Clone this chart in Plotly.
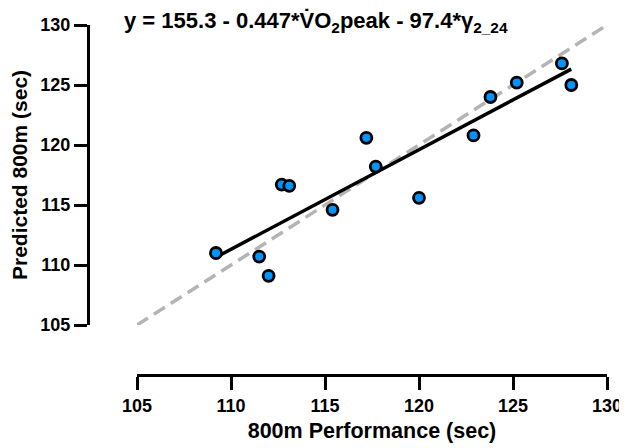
import numpy as np
import plotly.graph_objects as go

# Data
actual_800m = [109.2, 111.5, 112.0, 112.7, 113.1, 115.4, 117.2, 117.7, 120.0, 122.9, 123.8, 125.2, 127.6, 128.1]
predicted_800m = [111.0, 110.7, 109.1, 116.7, 116.6, 114.6, 120.6, 118.2, 115.6, 120.8, 124.0, 125.2, 126.8, 125.0]
axis_range = [105, 130]
tick_vals = [105, 110, 115, 120, 125, 130]

slope, intercept = np.polyfit(actual_800m, predicted_800m, 1)
fit_x = [min(actual_800m), max(actual_800m)]
fit_y = [intercept + slope * v for v in fit_x]

FONT = "Liberation Sans, Arial, sans-serif"

fig = go.Figure()
fig.add_trace(go.Scatter(
    x=axis_range, y=axis_range, mode="lines",
    line=dict(color="#b4b4b4", width=3.5, dash="13px,7px"),
    hoverinfo="skip", showlegend=False, cliponaxis=False))
fig.add_trace(go.Scatter(
    x=fit_x, y=fit_y, mode="lines",
    line=dict(color="black", width=3.5),
    showlegend=False))
fig.add_trace(go.Scatter(
    x=actual_800m, y=predicted_800m, mode="markers",
    marker=dict(size=11, color="#0094ff", line=dict(color="black", width=2.8)),
    showlegend=False, cliponaxis=False))

axis_common = dict(
    range=axis_range, tickvals=tick_vals, ticks="outside", ticklen=13, tickwidth=3,
    tickcolor="black", showline=True, linewidth=3, linecolor="black",
    showgrid=False, zeroline=False, anchor="free", position=0, automargin=False,
    tickfont=dict(family=FONT, size=18, color="black", weight="bold"),
)

fig.update_layout(
    width=627, height=448,
    margin=dict(l=80, r=28, t=17, b=81, autoexpand=False),
    paper_bgcolor="white", plot_bgcolor="white",
    xaxis=dict(domain=[49 / 519, 1],
               title=dict(text="<b>800m Performance (sec)</b>", standoff=8,
                          font=dict(family=FONT, size=21.5, color="black", weight="bold")),
               **axis_common),
    yaxis=dict(domain=[50 / 350, 1],
               title=dict(text="<b>Predicted 800m (sec)</b>", standoff=10,
                          font=dict(family=FONT, size=21, color="black", weight="bold")),
               **axis_common),
    annotations=[dict(
        text="<b>y = 155.3 - 0.447*V\u0307O<sub>2</sub>peak - 97.4*\u03b3<sub>2_24</sub></b>",
        xref="paper", yref="paper", x=(114 - 80) / 519, y=1 + 3 / 350,
        xanchor="left", yanchor="middle", showarrow=False,
        font=dict(family=FONT, size=22, color="black", weight="bold"))],
)

fig.write_html("out.html")
